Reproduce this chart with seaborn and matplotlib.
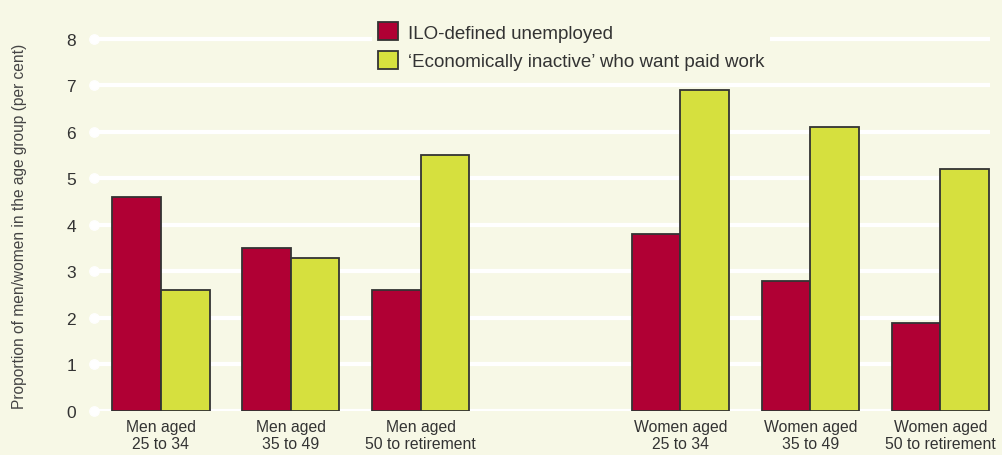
import matplotlib.pyplot as plt
import pandas as pd
import seaborn as sns

groups = ['Men aged\n25 to 34', 'Men aged\n35 to 49', 'Men aged\n50 to retirement',
          'Women aged\n25 to 34', 'Women aged\n35 to 49', 'Women aged\n50 to retirement']
unemployed = [4.6, 3.5, 2.6, 3.8, 2.8, 1.9]
inactive = [2.6, 3.3, 5.5, 6.9, 6.1, 5.2]
series = ['ILO-defined unemployed', '\u2018Economically inactive\u2019 who want paid work']
yticks = [0, 1, 2, 3, 4, 5, 6, 7, 8]

bg = '#F7F8E6'
red = '#B00034'
yellow = '#D6E03E'

df = pd.DataFrame({
    'Group': groups * 2,
    'Value': unemployed + inactive,
    'Series': [series[0]] * len(groups) + [series[1]] * len(groups),
})
# blank slot between men and women
order = groups[:3] + [' '] + groups[3:]

sns.set_style('white', rc={'axes.facecolor': bg, 'figure.facecolor': bg})
plt.rcParams['font.family'] = ['Liberation Sans', 'DejaVu Sans']

fig = plt.figure(figsize=(10.03, 4.56), dpi=100)
ax = fig.add_axes([0.0937, 0.0965, 0.893, 0.8465])

sns.barplot(data=df, x='Group', y='Value', hue='Series', order=order,
            palette=[red, yellow], saturation=1, width=0.75,
            edgecolor='#333333', linewidth=1.3, ax=ax)

ax.set_ylim(0, 8.3)
ax.set_xlim(-0.515, 6.38)
ax.set_yticks(yticks)
ax.yaxis.grid(True, color='white', linewidth=3)
ax.set_axisbelow(True)
sns.despine(ax=ax, left=True, bottom=True)
ax.tick_params(axis='both', length=0, colors='#333333')
ax.tick_params(axis='y', pad=13, labelsize=12.5)
ax.tick_params(axis='x', pad=6, labelsize=11.3)
for lbl in ax.get_xticklabels():
    lbl.set_linespacing(1.15)

# round dots at the start of the grid lines
ax.scatter([0] * len(yticks), yticks, s=45, color='white',
           transform=ax.get_yaxis_transform(), clip_on=False, zorder=0.5)

ax.set_xlabel('')
ax.set_ylabel('Proportion of men/women in the age group (per cent)',
              fontsize=11.2, color='#444444')
ax.yaxis.set_label_coords(-0.075, 0.48)

handles, labels = ax.get_legend_handles_labels()
ax.legend(handles, labels, loc='upper left', bbox_to_anchor=(0.362, 0.982),
          bbox_transform=fig.transFigure, frameon=True, facecolor=bg,
          edgecolor='none', framealpha=1, fancybox=False, fontsize=13.5,
          handlelength=1.05, handleheight=1.1, labelspacing=0.5,
          handletextpad=0.55, borderpad=0.3, labelcolor='#333333')

fig.savefig('out.png', dpi=100, facecolor=bg)
